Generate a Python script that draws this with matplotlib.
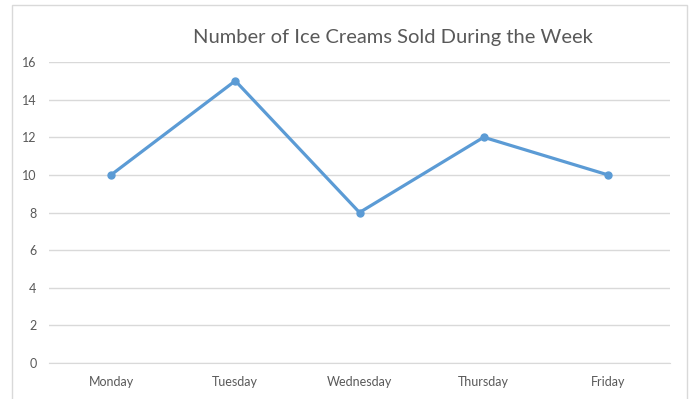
import matplotlib
matplotlib.use('Agg')
import matplotlib.pyplot as plt
from matplotlib.patches import Rectangle

# chart data
days = ['Monday', 'Tuesday', 'Wednesday', 'Thursday', 'Friday']
ice_creams_sold = [10, 15, 8, 12, 10]
y_ticks = [0, 2, 4, 6, 8, 10, 12, 14, 16]

plt.rcParams['font.family'] = ['Lato', 'DejaVu Sans']

fig = plt.figure(figsize=(6.92, 3.99), dpi=100)
ax = fig.add_axes([49 / 692, 1 - 363 / 399, (670 - 49) / 692, (363 - 62) / 399])

# light gray frame around the whole chart, like Excel
fig.patches.append(Rectangle((12 / 692, -0.01), (687 - 12) / 692, 1 - 5 / 399 + 0.01,
                             transform=fig.transFigure, fill=False,
                             edgecolor='#d9d9d9', linewidth=1))

x = list(range(len(days)))
ax.plot(x, ice_creams_sold, color='#5b9bd5', linewidth=2.3,
        marker='o', markersize=5, zorder=3)

ax.set_xlim(-0.5, len(days) - 0.5)
ax.set_ylim(0, 16)
ax.set_yticks(y_ticks)
ax.set_xticks(x)
ax.set_xticklabels(days)
ax.grid(axis='y', color='#d9d9d9', linewidth=1)
ax.set_axisbelow(True)
for side in ['top', 'right', 'left']:
    ax.spines[side].set_visible(False)
ax.spines['bottom'].set_color('#d9d9d9')
ax.tick_params(axis='both', length=0, labelsize=9, colors='#595959')
ax.tick_params(axis='y', pad=9)
ax.tick_params(axis='x', pad=9)

fig.text(393 / 692, 1 - 38 / 399, 'Number of Ice Creams Sold During the Week',
         ha='center', va='center', fontsize=14.5, color='#595959')

fig.savefig('out.png', dpi=100)
